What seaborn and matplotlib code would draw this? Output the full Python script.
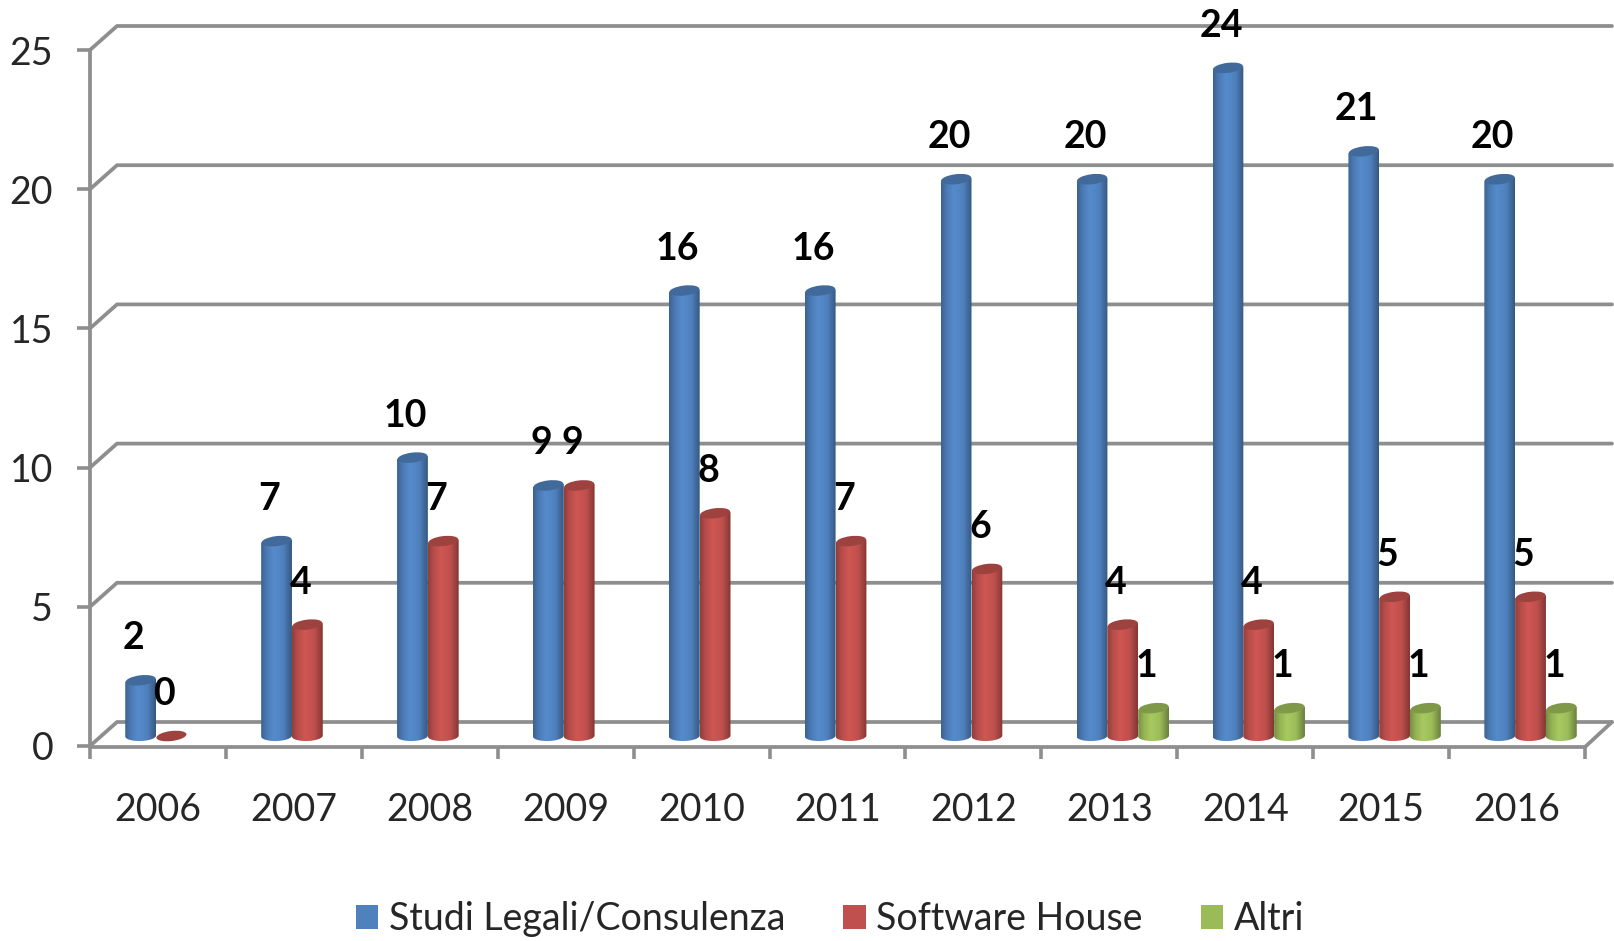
import numpy as np
import pandas as pd
import seaborn as sns
import matplotlib
matplotlib.use("Agg")
import matplotlib.pyplot as plt
from matplotlib.colors import LinearSegmentedColormap, to_rgb
from matplotlib.lines import Line2D
from matplotlib.patches import Ellipse, Patch
from matplotlib.path import Path
from matplotlib.transforms import Affine2D, IdentityTransform

years = ["2006", "2007", "2008", "2009", "2010", "2011", "2012", "2013", "2014", "2015", "2016"]
studi = [2, 7, 10, 9, 16, 16, 20, 20, 24, 21, 20]
software = [0, 4, 7, 9, 8, 7, 6, 4, 4, 5, 5]
altri = [np.nan, np.nan, np.nan, np.nan, np.nan, np.nan, np.nan, 1, 1, 1, 1]
series_names = ["Studi Legali/Consulenza", "Software House", "Altri"]
series_colors = ["#4F81BD", "#C0504D", "#9BBB59"]
y_ticks = [0, 5, 10, 15, 20, 25]

W, H, DPI = 1615, 941, 100
GRAY = "#8E8E8E"
DEPTH = (27, 24)          # back wall offset, px
BAR_SHIFT = (13.5, 10)    # bars stand in the middle of the floor, px

sns.set_style("white")
plt.rcParams["font.family"] = ["Lato", "DejaVu Sans"]

df = pd.DataFrame({
    "year": years * 3,
    "value": studi + software + altri,
    "series": sum([[n] * len(years) for n in series_names], []),
})

fig = plt.figure(figsize=(W / DPI, H / DPI), dpi=DPI, facecolor="white")
ax = fig.add_axes([90 / W, 1 - 746 / H, (1585 - 90) / W, (746 - 50) / H])
sns.barplot(data=df, x="year", y="value", hue="series", hue_order=series_names,
            order=years, palette=series_colors, width=0.68, gap=0, dodge=True,
            saturation=1, legend=False, ax=ax, err_kws={"linewidth": 0})
ax.set_xlim(-0.5, len(years) - 0.5)
ax.set_ylim(0, 25)
ax.set_xlabel("")
ax.set_ylabel("")
ax.patch.set_alpha(0)
for s in ["top", "right", "left", "bottom"]:
    ax.spines[s].set_visible(False)

# axis ticks
ax.set_yticks(y_ticks)
ax.tick_params(axis="y", which="major", left=True, length=9.5, width=2.6, color=GRAY,
               labelsize=27, labelcolor="#262626", pad=17)
ax.set_xticks(range(len(years)))
ax.set_xticklabels(years)
ax.set_xticks(np.arange(len(years) + 1) - 0.5, minor=True)
ax.tick_params(axis="x", which="major", length=0, labelsize=27, labelcolor="#262626", pad=33)
ax.tick_params(axis="x", which="minor", bottom=True, length=9.5, width=2.6, color=GRAY)


def px(x, y):
    return ax.transData.transform((x, y))


def pline(xs, ys, z=1):
    ax.add_artist(Line2D(xs, ys, transform=IdentityTransform(), color=GRAY, lw=2.7,
                         zorder=z, solid_capstyle="round", clip_on=False))


x_left, x_right = ax.get_xlim()
for v in y_ticks:
    a = px(x_left, v)
    b = px(x_right, v)
    pline([a[0], a[0] + DEPTH[0], b[0] + DEPTH[0]], [a[1], a[1] + DEPTH[1], b[1] + DEPTH[1]], z=0.5)
a = px(x_left, 0)
b = px(x_right, 0)
t = px(x_left, 25)
pline([t[0], a[0]], [t[1], a[1]], z=0.6)
pline([a[0], b[0], b[0] + DEPTH[0]], [a[1] - 1, b[1] - 1, b[1] + DEPTH[1]], z=0.6)

# cylinders drawn over the library's bars
shift = Affine2D().translate(*BAR_SHIFT)
ELL_H = 10.0
TILT = 7
theta = np.linspace(np.pi, 2 * np.pi, 30)


def scale(c, f):
    return tuple(min(1, ch * f) for ch in to_rgb(c))


labels = []
for container, col in zip(ax.containers, series_colors):
    cmap = LinearSegmentedColormap.from_list(
        "cyl", [(0, scale(col, .76)), (.18, scale(col, .95)), (.42, scale(col, 1.08)),
                (.72, scale(col, 1.0)), (1, scale(col, .68))])
    for rect in container:
        val = rect.get_height()
        if not np.isfinite(val):
            continue
        x0, w = rect.get_x(), rect.get_width()
        rect.set_visible(False)
        xc = x0 + w / 2
        pb = px(xc, 0) + np.array(BAR_SHIFT)
        pt = px(xc, val) + np.array(BAR_SHIFT)
        wpx = px(x0 + w, 0)[0] - px(x0, 0)[0]
        if val > 0:
            xs = pb[0] + wpx / 2 * np.cos(theta)
            ys = pb[1] + ELL_H / 2 * np.sin(theta) + 0.25 * wpx / 2 * np.cos(theta) * np.tan(np.radians(TILT))
            verts = [(pt[0] - wpx / 2, pt[1] - 1.5)] + list(zip(xs, ys)) + [(pt[0] + wpx / 2, pt[1] + 1.5)]
            im = ax.imshow(np.linspace(0, 1, 128)[None, :], cmap=cmap, vmin=0, vmax=1,
                           extent=(x0, x0 + w, -0.6, val + 0.3), aspect="auto",
                           transform=ax.transData + shift,
                           zorder=3, interpolation="bilinear")
            im.set_clip_path(Path(verts + [verts[0]]), IdentityTransform())
        top = Ellipse(tuple(pt), wpx * 0.98, ELL_H, angle=TILT, transform=IdentityTransform(),
                      facecolor=scale(col, .82), edgecolor="none", zorder=4)
        ax.add_artist(top)
        labels.append((xc, val, pt))

ax.set_xlim(x_left, x_right)
ax.set_ylim(0, 25)

for xc, val, pt in labels:
    ax.annotate(f"{val:.0f}", xy=(xc, val), xycoords="data",
                xytext=((BAR_SHIFT[0] - 7) * 0.72, (BAR_SHIFT[1] + 42) * 0.72), textcoords="offset points",
                ha="center", va="center", fontsize=27, fontweight="bold", color="black",
                zorder=6, annotation_clip=False)

handles = [Patch(facecolor=c, edgecolor="none", label=n) for c, n in zip(series_colors, series_names)]
fig.legend(handles=handles, loc="center", bbox_to_anchor=(830 / W, 1 - 919 / H),
           bbox_transform=fig.transFigure, ncol=3, frameon=False, fontsize=27, labelcolor="#262626",
           handlelength=0.6, handleheight=0.62, handletextpad=0.28, columnspacing=1.55,
           borderpad=0, borderaxespad=0)

fig.savefig("out.png", dpi=DPI, facecolor="white")
